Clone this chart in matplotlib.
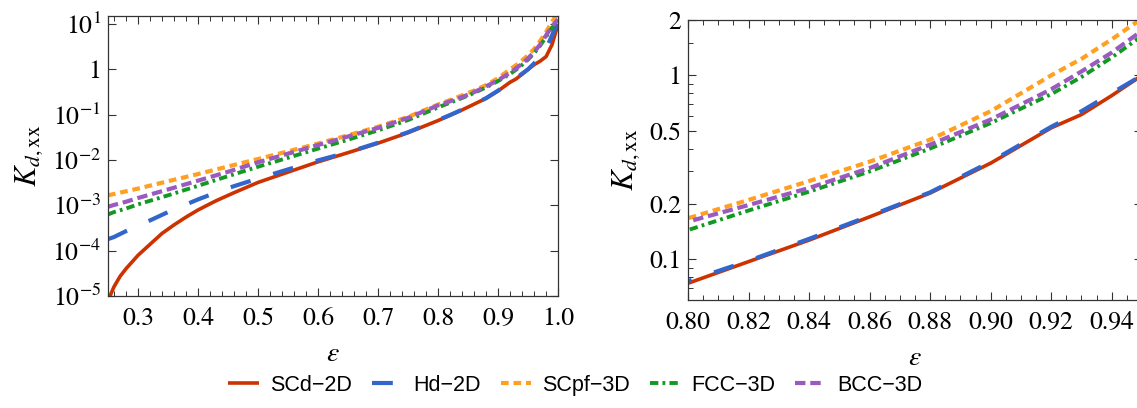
import matplotlib
matplotlib.use("Agg")
import matplotlib.pyplot as plt
from matplotlib.ticker import FixedLocator, FixedFormatter, MultipleLocator, NullLocator

plt.rcParams['font.family'] = 'STIXGeneral'
plt.rcParams['mathtext.fontset'] = 'stix'
plt.rcParams['lines.scale_dashes'] = False

# porosity values
eps = [0.25, 0.26, 0.28, 0.30, 0.35, 0.40, 0.45, 0.50, 0.55, 0.60, 0.65, 0.70,
       0.75, 0.80, 0.82, 0.84, 0.86, 0.88, 0.90, 0.92, 0.93, 0.94, 0.95, 0.96,
       0.97, 0.98, 0.99, 1.00]
# SCd-2D is read on a finer grid at low porosity (it bends there)
eps_scd = [0.25, 0.26, 0.27, 0.28, 0.30, 0.32, 0.34, 0.36, 0.38, 0.40, 0.43, 0.46,
           0.50, 0.55, 0.60, 0.65, 0.70, 0.75, 0.80, 0.82, 0.84, 0.86, 0.88, 0.90,
           0.92, 0.93, 0.94, 0.95, 0.96, 0.97, 0.98, 0.99, 1.00]

# K_d,xx
scd_2d = [7.9e-6, 1.6e-5, 2.7e-5, 4.0e-5, 7.9e-5, 1.38e-4, 2.4e-4, 3.7e-4, 5.5e-4,
          7.9e-4, 1.26e-3, 1.9e-3, 3.2e-3, 5.4e-3, 9.1e-3, 1.45e-2, 2.35e-2, 0.040,
          0.074, 0.097, 0.127, 0.170, 0.229, 0.333, 0.518, 0.612, 0.776, 1.0, 1.26,
          1.51, 1.9, 3.5, 10.0]
hd_2d = [1.8e-4, 2.0e-4, 2.7e-4, 3.5e-4, 7.1e-4, 1.35e-3, 2.4e-3, 3.9e-3, 6.2e-3,
         9.8e-3, 1.48e-2, 2.4e-2, 0.041, 0.076, 0.098, 0.129, 0.172, 0.231,
         0.339, 0.525, 0.638, 0.80, 1.0, 1.35, 1.86, 2.8, 5.6, 11.2]
scpf_3d = [1.66e-3, 1.78e-3, 2.04e-3, 2.34e-3, 3.4e-3, 4.9e-3, 7.2e-3, 1.05e-2,
           1.55e-2, 2.3e-2, 3.5e-2, 5.4e-2, 0.089, 0.167, 0.21, 0.266, 0.339,
           0.447, 0.638, 1.0, 1.23, 1.57, 2.04, 2.8, 4.2, 6.6, 11.2, 17.8]
fcc_3d = [6.3e-4, 7.1e-4, 8.5e-4, 1.05e-3, 1.66e-3, 2.7e-3, 4.4e-3, 7.1e-3, 1.12e-2,
          1.78e-2, 2.8e-2, 4.5e-2, 0.076, 0.144, 0.184, 0.233, 0.30, 0.40, 0.55,
          0.79, 0.98, 1.25, 1.64, 2.24, 3.3, 5.2, 8.3, 11.2]
bcc_3d = [9.3e-4, 1.02e-3, 1.2e-3, 1.45e-3, 2.24e-3, 3.5e-3, 5.5e-3, 8.9e-3, 1.38e-2,
          2.14e-2, 3.3e-2, 5.1e-2, 0.085, 0.16, 0.197, 0.244, 0.313, 0.42, 0.575,
          0.84, 1.05, 1.33, 1.75, 2.4, 3.5, 5.6, 8.9, 12.6]

names = ['SCd\u22122D', 'Hd\u22122D', 'SCpf\u22123D', 'FCC\u22123D', 'BCC\u22123D']
xs = [eps_scd, eps, eps, eps, eps]
series = [scd_2d, hd_2d, scpf_3d, fcc_3d, bcc_3d]
colors = ['#cc3300', '#3366cc', '#ffa020', '#119922', '#9b5ac0']
dashes = [None, (15, 17), (5.5, 3.5), (6, 3, 2, 3), (7.5, 3.5)]
widths = [2.6, 3.0, 3.0, 2.8, 3.0]

left_yt = [1e-5, 1e-4, 1e-3, 1e-2, 1e-1, 1, 10]
left_yl = ['$10^{-5}$', '$10^{-4}$', '$10^{-3}$', '$10^{-2}$', '$10^{-1}$', '1', '$10^{1}$']
right_yt = [0.1, 0.2, 0.5, 1, 2]
right_yl = ['0.1', '0.2', '0.5', '1', '2']
right_minor = [0.07, 0.08, 0.09, 0.3, 0.4, 0.6, 0.7, 0.8, 0.9, 1.5]

fig = plt.figure(figsize=(11.37, 4.08), dpi=100)
ax1 = fig.add_axes([0.0950, 0.2745, 0.3958, 0.6863])
ax2 = fig.add_axes([0.6051, 0.2647, 0.3993, 0.6863])

for ax in (ax1, ax2):
    for x, y, n, c, d, w in zip(xs, series, names, colors, dashes, widths):
        if d is None:
            ax.plot(x, y, color=c, lw=w, label=n, solid_capstyle='butt')
        else:
            ax.plot(x, y, color=c, lw=w, label=n, dashes=d, dash_capstyle='butt')
    ax.set_yscale('log')
    ax.tick_params(which='both', direction='in', top=True, right=True,
                   colors='#333333', labelcolor='black', labelsize=18.5)
    ax.tick_params(which='major', length=6, width=0.8)
    ax.tick_params(which='minor', length=3.5, width=0.7)
    ax.tick_params(axis='x', pad=8)
    ax.tick_params(axis='y', pad=5)
    for s in ax.spines.values():
        s.set_color('#333333')
        s.set_linewidth(0.9)
    ax.set_xlabel(r'$\varepsilon$', fontsize=20, labelpad=8)
    ax.set_ylabel(r'$K_{d,\mathrm{xx}}$', fontsize=22, labelpad=5)

ax1.set_xlim(0.25, 1.0)
ax1.set_ylim(1e-5, 15)
ax1.xaxis.set_major_locator(MultipleLocator(0.1))
ax1.xaxis.set_minor_locator(MultipleLocator(0.02))
ax1.xaxis.set_major_formatter(plt.FuncFormatter(lambda v, p: '%.1f' % v))
ax1.yaxis.set_major_locator(FixedLocator(left_yt))
ax1.yaxis.set_major_formatter(FixedFormatter(left_yl))
ax1.yaxis.set_minor_locator(NullLocator())

ax2.set_xlim(0.8, 0.95)
ax2.set_ylim(0.06, 2)
ax2.xaxis.set_major_locator(MultipleLocator(0.02))
ax2.xaxis.set_minor_locator(MultipleLocator(0.005))
ax2.xaxis.set_major_formatter(plt.FuncFormatter(lambda v, p: '%.2f' % v))
ax2.yaxis.set_major_locator(FixedLocator(right_yt))
ax2.yaxis.set_major_formatter(FixedFormatter(right_yl))
ax2.yaxis.set_minor_locator(FixedLocator(right_minor))
ax2.yaxis.set_minor_formatter(FixedFormatter([''] * len(right_minor)))

h, l = ax1.get_legend_handles_labels()
fig.legend(h, l, loc='center', bbox_to_anchor=(0.506, 0.056), ncol=5, frameon=False,
           prop={'family': 'Liberation Sans', 'size': 15.5}, handlelength=1.4,
           handletextpad=0.55, columnspacing=0.9)

fig.savefig('out.png', dpi=100)
